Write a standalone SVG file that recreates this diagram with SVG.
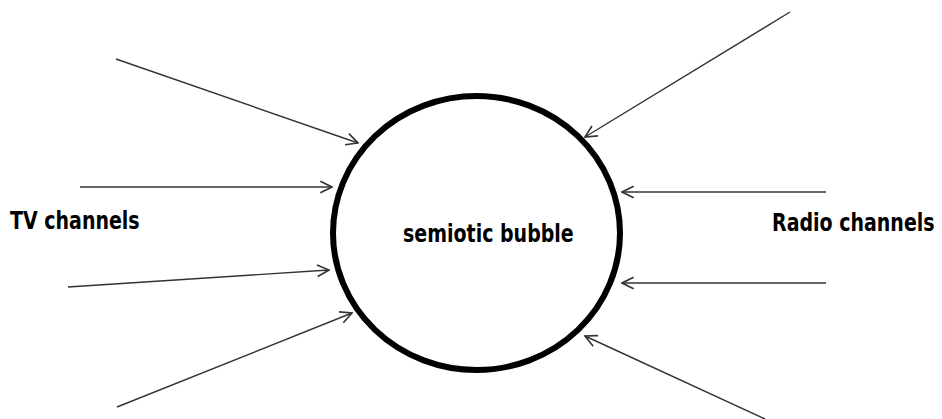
<svg xmlns="http://www.w3.org/2000/svg" width="942" height="419" viewBox="0 0 942 419">
<style>
.lbl{font-family:"DejaVu Sans","Liberation Sans",sans-serif;font-weight:bold;font-size:19px;fill:#000}
.conn line{stroke:#333;stroke-width:1.4;fill:none}
</style>
<defs>
<marker id="ah" markerUnits="userSpaceOnUse" markerWidth="14" markerHeight="14" refX="11" refY="6" orient="auto" viewBox="0 0 12 12">
<path d="M1,1 L11,6 L1,11" fill="none" stroke="#333" stroke-width="1.4"/>
</marker>
</defs>
<rect width="942" height="419" fill="#fff"/>
<g id="bubble">
<ellipse cx="476.5" cy="233" rx="143.5" ry="137" fill="none" stroke="#000" stroke-width="6"/>
<text class="lbl" transform="translate(403,242) scale(1,1.26)">semiotic bubble</text>
</g>
<g id="tv">
<text class="lbl" transform="translate(10,229) scale(1,1.26)">TV channels</text>
</g>
<g id="radio">
<text class="lbl" transform="translate(772,231) scale(1,1.26)">Radio channels</text>
</g>
<g class="conn" id="connectors">
<line x1="116" y1="59" x2="358" y2="143" marker-end="url(#ah)"/>
<line x1="80" y1="187" x2="332" y2="187" marker-end="url(#ah)"/>
<line x1="68" y1="287" x2="329" y2="270" marker-end="url(#ah)"/>
<line x1="117" y1="407" x2="352" y2="313" marker-end="url(#ah)"/>
<line x1="790" y1="12" x2="585" y2="137" marker-end="url(#ah)"/>
<line x1="826" y1="192" x2="622" y2="192" marker-end="url(#ah)"/>
<line x1="826" y1="283" x2="622" y2="283" marker-end="url(#ah)"/>
<line x1="765" y1="419" x2="585" y2="336" marker-end="url(#ah)"/>
</g>
</svg>
